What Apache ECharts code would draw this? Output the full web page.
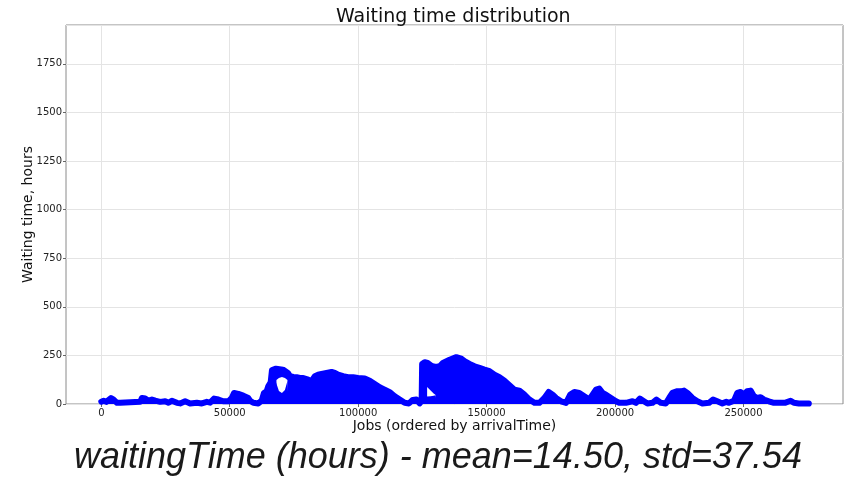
<!DOCTYPE html>
<html>
<head>
<meta charset="utf-8">
<script src="https://cdn.jsdelivr.net/npm/echarts@6/dist/echarts.min.js"></script>
<style>html,body{margin:0;padding:0;background:#fff;}#c{width:846px;height:479px;}</style>
</head>
<body>
<div id="c"></div>
<script>
// Upper contour of the scatter cloud (job index, waiting time in hours)
const jobIndex = [0, 900, 1940, 3770, 4780, 6100, 7380, 11270, 15150, 15800, 17090, 18380, 19700, 20980, 22920, 24860, 26150, 27470, 29410, 30690, 32630, 34580, 37180, 39120, 41060, 42350, 43900, 45570, 47510, 49460, 50780, 51670, 53340, 55280, 57230, 57890, 59170, 61110, 62430, 63330, 64370, 65000, 65930, 66440, 67990, 70710, 72650, 73430, 74710, 76030, 77310, 78600, 80540, 81820, 83140, 84420, 85740, 87680, 89630, 90910, 92190, 94130, 96080, 98020, 99960, 102560, 104510, 106450, 108390, 110330, 112280, 114220, 116160, 118100, 119780, 121210, 122650, 123930, 124710, 124900, 125870, 127040, 128590, 130150, 131700, 132990, 135590, 138190, 140130, 141410, 143360, 145300, 147240, 149180, 151130, 153070, 155010, 156950, 158900, 160840, 162780, 164720, 166670, 168610, 170550, 172490, 174160, 175720, 177040, 178980, 180920, 181430, 182600, 184150, 186090, 188030, 189970, 191260, 192580, 193860, 195150, 196470, 198410, 200350, 201630, 204240, 206800, 208120, 209670, 210960, 212630, 214570, 216130, 217840, 219780, 221060, 222340, 224280, 225720, 226880, 228170, 230110, 232050, 234000, 236600, 238150, 239820, 241770, 243320, 244370, 246310, 247590, 248910, 250190, 251470, 252790, 254070, 255350, 256670, 257960, 259900, 261840, 263790, 266120, 268330, 269620, 271560, 274160, 275440];
const waitingHours = [12, 17, 11, 31, 23, 6, 7, 9, 11, 31, 28, 17, 23, 17, 11, 14, 6, 17, 6, 3, 14, 3, 6, 3, 11, 7, 28, 23, 14, 14, 31, 57, 52, 43, 31, 17, 6, 3, 17, 57, 66, 91, 112, 175, 182, 177, 160, 144, 139, 138, 134, 134, 125, 117, 143, 151, 155, 160, 165, 160, 151, 143, 138, 138, 134, 131, 120, 103, 86, 74, 61, 40, 23, 6, 3, 21, 23, 3, 16, 206, 215, 211, 196, 191, 194, 211, 228, 241, 233, 220, 206, 194, 186, 177, 169, 151, 138, 120, 97, 74, 69, 48, 23, 6, 6, 31, 62, 48, 31, 14, 6, 16, 49, 62, 57, 40, 23, 48, 74, 79, 57, 48, 31, 14, 6, 6, 14, 6, 28, 17, 3, 6, 23, 6, 3, 31, 57, 66, 65, 69, 57, 31, 14, 3, 6, 23, 14, 3, 11, 6, 17, 57, 62, 48, 66, 69, 40, 31, 35, 23, 14, 6, 6, 6, 17, 6, 3, 3, 2];

// Empty pockets inside the cloud: upper edge and lower edge of each gap
const gapTopJobs1 = [68180, 69150, 70320, 71480, 72460];
const gapTop1 = [123, 134, 139, 134, 123];
const gapBottomJobs1 = [67700, 68180, 69150, 70320, 71480, 72460, 72940];
const gapBottom1 = [123, 118, 67, 57, 72, 118, 123];
const gapTopJobs2 = [126840, 128200, 129370, 130150];
const gapTop2 = [87, 69, 54, 46];
const gapBottomJobs2 = [126360, 126840, 128200, 129370, 130150, 130630];
const gapBottom2 = [87, 38, 40, 43, 45, 46];

const xTicks = [0, 50000, 100000, 150000, 200000, 250000];

const pairs = (xs, ys) => xs.map((x, i) => [x, ys[i]]);
const BLUE = '#0000ff';
const FONT = 'DejaVu Sans';
const plain = v => String(v);

const chart = echarts.init(document.getElementById('c'), null, {renderer: 'canvas'});
chart.setOption({
  animation: false,
  backgroundColor: '#ffffff',
  title: {
    text: 'Waiting time distribution',
    left: 331, top: 3,
    textStyle: {fontFamily: FONT, fontSize: 19, fontWeight: 'normal', color: '#111'}
  },
  grid: {left: 66, right: 3, top: 25, bottom: 75, show: true, borderColor: '#8a8a8a', borderWidth: 1, backgroundColor: 'transparent'},
  xAxis: {
    type: 'value', min: -13750, max: 288750,
    axisLine: {show: false, onZero: false},
    axisTick: {show: true, length: 3, customValues: xTicks, lineStyle: {color: '#666'}},
    axisLabel: {customValues: xTicks, formatter: plain, fontFamily: FONT, fontSize: 10, color: '#222', margin: 4},
    splitLine: {show: true, lineStyle: {color: '#e4e4e4', width: 1}},
    name: 'Jobs (ordered by arrivalTime)', nameLocation: 'middle', nameGap: 15, nameMoveOverlap: false,
    nameTextStyle: {fontFamily: FONT, fontSize: 14, color: '#111'}
  },
  yAxis: {
    type: 'value', min: 0, max: 1950, interval: 250,
    axisLine: {show: false, onZero: false},
    axisTick: {show: true, length: 3, lineStyle: {color: '#666'}},
    axisLabel: {formatter: plain, fontFamily: FONT, fontSize: 10, color: '#222', margin: 4, showMaxLabel: false},
    splitLine: {show: true, lineStyle: {color: '#e4e4e4', width: 1}},
    name: 'Waiting time, hours', nameLocation: 'middle', nameGap: 31, nameMoveOverlap: false,
    nameTextStyle: {fontFamily: FONT, fontSize: 14, color: '#111'}
  },
  graphic: [{
    type: 'text', left: 74, top: 440,
    style: {text: 'waitingTime (hours) - mean=14.50, std=37.54', fontFamily: 'Liberation Sans, Arial, sans-serif', fontStyle: 'italic', fontSize: 36, fill: '#1a1a1a'}
  }],
  series: [
    {
      type: 'line', data: pairs(jobIndex, waitingHours), symbol: 'none', smooth: false, clip: false,
      lineStyle: {color: BLUE, width: 6, cap: 'round', join: 'round'},
      areaStyle: {color: BLUE, opacity: 1}, z: 3
    },
    {
      type: 'line', data: pairs(gapTopJobs1, gapTop1), symbol: 'none',
      lineStyle: {width: 0, opacity: 0}, areaStyle: {color: '#ffffff', opacity: 1}, z: 4
    },
    {
      type: 'line', data: pairs(gapBottomJobs1, gapBottom1), symbol: 'none',
      lineStyle: {width: 0, opacity: 0}, areaStyle: {color: BLUE, opacity: 1}, z: 5
    },
    {
      type: 'line', data: pairs(gapTopJobs2, gapTop2), symbol: 'none',
      lineStyle: {width: 0, opacity: 0}, areaStyle: {color: '#ffffff', opacity: 1}, z: 4
    },
    {
      type: 'line', data: pairs(gapBottomJobs2, gapBottom2), symbol: 'none',
      lineStyle: {width: 0, opacity: 0}, areaStyle: {color: BLUE, opacity: 1}, z: 5
    }
  ]
});
</script>
</body>
</html>
